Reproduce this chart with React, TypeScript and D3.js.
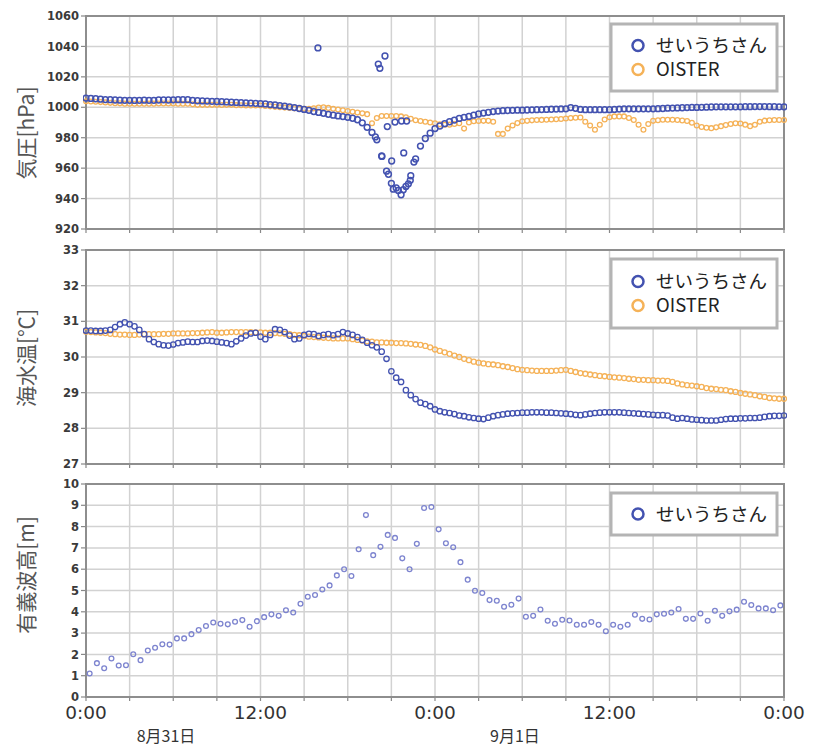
import { useEffect, useRef } from 'react';
import * as d3 from 'd3';

// 20-minute readings, 0:00 8/31 .. 0:00 9/2 (145 values, one row per hour)
const pressSeiuchi = [
  1006.0, 1005.8, 1005.6, 1005.3, 1005.1, 1005.0, 1004.8, 1004.7, 1004.6, 1004.6, 1004.5, 1004.6,
  1004.7, 1004.6, 1004.6, 1004.8, 1004.9, 1004.8, 1004.9, 1005.0, 1005.0, 1005.0, 1004.6, 1004.3,
  1004.2, 1004.1, 1003.9, 1003.8, 1003.7, 1003.5, 1003.3, 1003.2, 1003.0, 1002.9, 1002.8, 1002.6,
  1002.4, 1002.2, 1001.8, 1001.5, 1001.1, 1000.7, 1000.3, 999.8, 999.2, 998.6, 998.0, 997.2,
  996.6, 996.0, 995.4, 994.8, 994.3, 993.9, 993.4, 992.8, 991.8, 989.8, 986.8, 983.5,
  978.6, 968.0, 958.0, 950.0, 947.0, 942.5, 948.0, 955.0, 966.0, 974.5, 979.5, 983.0,
  986.0, 987.7, 989.2, 990.5, 991.6, 992.7, 993.4, 994.0, 994.8, 995.6, 996.2, 996.7,
  997.2, 997.5, 997.8, 997.9, 998.0, 998.1, 998.1, 998.2, 998.3, 998.4, 998.5, 998.6,
  998.7, 998.8, 998.9, 999.0, 999.8, 999.3, 998.6, 998.4, 998.4, 998.4, 998.4, 998.4,
  998.4, 998.6, 998.8, 999.0, 999.0, 999.0, 999.0, 999.0, 999.0, 999.0, 999.1, 999.2,
  999.4, 999.5, 999.6, 999.7, 999.8, 999.9, 999.9, 1000.0, 1000.1, 1000.2, 1000.3, 1000.3,
  1000.3, 1000.3, 1000.3, 1000.3, 1000.4, 1000.4, 1000.5, 1000.5, 1000.5, 1000.4, 1000.4, 1000.3,
  1000.3,
];

// scattered せいうちさん pressure readings around the typhoon passage [hour, hPa]
const pressSeiuchiScatter = [
  [15.95, 1039], [20.1, 1028.4], [20.21, 1025.6], [20.56, 1033.7], [19.9, 980.5],
  [20.35, 967.7], [20.72, 987.3], [20.8, 956], [21.02, 964.7], [21.13, 946.2],
  [21.25, 990.3], [21.48, 945.3], [21.7, 991], [21.82, 945.8], [21.85, 970],
  [22.05, 991], [22.17, 949.7], [22.3, 952], [22.55, 964],
];

const pressOister = [
  1004.0, 1003.8, 1003.6, 1003.4, 1003.2, 1002.9, 1002.7, 1002.6, 1002.4, 1002.3, 1002.3, 1002.3,
  1002.3, 1002.4, 1002.4, 1002.5, 1002.5, 1002.5, 1002.5, 1002.4, 1002.3, 1002.3, 1002.0, 1001.6,
  1001.6, 1001.6, 1001.6, 1001.6, 1001.5, 1001.6, 1001.6, 1001.4, 1001.3, 1001.2, 1001.2, 1001.2,
  1001.2, 1000.9, 1000.6, 1000.3, 1000.0, 999.8, 999.5, 999.3, 999.1, 999.0, 999.0, 999.3,
  999.8, 1000.0, 999.6, 999.0, 998.5, 998.0, 997.5, 997.0, 996.5, 996.0, 995.5, 989.5,
  993.0, 994.3, 994.3, 994.3, 994.2, 994.0, 993.5, 992.5, 991.5, 991.0, 990.5, 990.0,
  989.5, 988.8, 988.5, 988.6, 989.0, 989.5, 986.0, 990.0, 990.8, 991.0, 991.1, 991.1,
  990.5, 982.5, 982.5, 986.0, 988.0, 989.6, 990.8, 991.1, 991.4, 991.6, 991.7, 991.8,
  992.0, 992.1, 992.3, 992.6, 992.9, 993.1, 993.3, 990.5, 988.0, 985.2, 988.5, 992.0,
  993.5, 994.0, 994.0, 994.0, 993.0, 991.6, 988.5, 985.2, 989.0, 991.1, 991.5, 991.8,
  991.8, 991.8, 991.6, 991.3, 991.0, 989.8, 988.0, 987.0, 986.5, 986.3, 986.8, 987.6,
  988.3, 989.0, 989.5, 989.3, 988.6, 987.6, 988.5, 990.5, 991.2, 991.5, 991.6, 991.6,
  991.6,
];

const tempSeiuchi = [
  30.74, 30.74, 30.73, 30.73, 30.74, 30.76, 30.84, 30.92, 30.97, 30.92, 30.86, 30.76,
  30.64, 30.50, 30.42, 30.36, 30.33, 30.32, 30.35, 30.39, 30.41, 30.43, 30.42, 30.42,
  30.45, 30.46, 30.45, 30.43, 30.41, 30.39, 30.36, 30.44, 30.52, 30.60, 30.66, 30.68,
  30.57, 30.50, 30.62, 30.78, 30.76, 30.70, 30.60, 30.50, 30.52, 30.62, 30.65, 30.64,
  30.59, 30.62, 30.64, 30.61, 30.64, 30.70, 30.66, 30.62, 30.56, 30.48, 30.40, 30.33,
  30.27, 30.15, 29.95, 29.60, 29.42, 29.30, 29.07, 28.93, 28.82, 28.72, 28.68, 28.62,
  28.53, 28.48, 28.45, 28.43, 28.40, 28.36, 28.34, 28.31, 28.29, 28.27, 28.26, 28.30,
  28.34, 28.37, 28.39, 28.41, 28.42, 28.43, 28.44, 28.44, 28.45, 28.45, 28.45, 28.44,
  28.44, 28.43, 28.42, 28.41, 28.40, 28.38, 28.37, 28.39, 28.41, 28.43, 28.44, 28.45,
  28.45, 28.45, 28.45, 28.44, 28.43, 28.42, 28.41, 28.40, 28.39, 28.38, 28.37, 28.37,
  28.36, 28.30, 28.27, 28.29, 28.27, 28.25, 28.24, 28.23, 28.22, 28.22, 28.22, 28.24,
  28.26, 28.27, 28.27, 28.28, 28.28, 28.29, 28.29, 28.30, 28.32, 28.34, 28.35, 28.35,
  28.36,
];

const tempOister = [
  30.71, 30.70, 30.69, 30.68, 30.67, 30.65, 30.64, 30.63, 30.63, 30.62, 30.62, 30.63,
  30.64, 30.64, 30.64, 30.64, 30.65, 30.65, 30.66, 30.66, 30.66, 30.66, 30.67, 30.67,
  30.68, 30.69, 30.70, 30.68, 30.68, 30.69, 30.70, 30.70, 30.70, 30.70, 30.70, 30.69,
  30.69, 30.68, 30.68, 30.67, 30.66, 30.65, 30.64, 30.62, 30.61, 30.59, 30.57, 30.56,
  30.55, 30.54, 30.53, 30.52, 30.52, 30.52, 30.52, 30.50, 30.48, 30.46, 30.44, 30.43,
  30.41, 30.41, 30.40, 30.40, 30.39, 30.39, 30.38, 30.37, 30.35, 30.34, 30.31, 30.27,
  30.21, 30.17, 30.13, 30.09, 30.04, 30.00, 29.95, 29.91, 29.87, 29.84, 29.82, 29.80,
  29.79, 29.77, 29.74, 29.72, 29.69, 29.66, 29.64, 29.63, 29.62, 29.61, 29.61, 29.61,
  29.61, 29.62, 29.63, 29.64, 29.61, 29.58, 29.55, 29.53, 29.51, 29.49, 29.47, 29.46,
  29.44, 29.43, 29.42, 29.41, 29.39, 29.38, 29.36, 29.36, 29.35, 29.35, 29.34, 29.34,
  29.33, 29.30, 29.26, 29.23, 29.21, 29.20, 29.18, 29.16, 29.13, 29.11, 29.10, 29.08,
  29.07, 29.04, 29.02, 28.99, 28.97, 28.95, 28.93, 28.90, 28.88, 28.85, 28.84, 28.83,
  28.83,
];

// significant wave height, every 30 min from 0:15
const waveSeiuchi = [
  1.10, 1.59, 1.35, 1.81, 1.48, 1.49, 2.01, 1.73, 2.18, 2.31, 2.48, 2.46,
  2.75, 2.75, 2.95, 3.14, 3.33, 3.50, 3.44, 3.41, 3.53, 3.61, 3.30, 3.56,
  3.75, 3.88, 3.81, 4.07, 3.97, 4.38, 4.71, 4.79, 5.05, 5.24, 5.71, 6.00,
  5.68, 6.94, 8.54, 6.66, 7.05, 7.61, 7.47, 6.51, 6.00, 7.19, 8.87, 8.92,
  7.87, 7.22, 7.03, 6.33, 5.51, 4.99, 4.88, 4.55, 4.52, 4.24, 4.33, 4.62,
  3.77, 3.81, 4.11, 3.58, 3.44, 3.63, 3.59, 3.39, 3.39, 3.52, 3.39, 3.09,
  3.39, 3.30, 3.39, 3.86, 3.67, 3.64, 3.88, 3.91, 3.97, 4.13, 3.67, 3.67,
  3.92, 3.58, 4.05, 3.81, 4.02, 4.10, 4.47, 4.32, 4.16, 4.16, 4.07, 4.30,
];

const timeLabels = ['0:00', '12:00', '0:00', '12:00', '0:00'];
const dateLabels = ['8月31日', '9月1日'];
const seriesNames = ['せいうちさん', 'OISTER'];

const BLUE = '#4352b0';
const ORANGE = '#f5b258';
const WAVE = '#7d84cf';

export default function App() {
  const svgRef = useRef(null);

  useEffect(() => {
    const width = 813;
    const height = 748;
    const svg = d3.select(svgRef.current);
    svg.selectAll('*').remove();
    svg.attr('width', width).attr('height', height);

    const x = d3.scaleLinear().domain([0, 48]).range([86, 784]);
    const t20 = d3.range(145).map(i => i / 3);
    const t30 = d3.range(96).map(i => 0.25 + i * 0.5);

    const panels = [
      {
        top: 16, bottom: 229, domain: [920, 1060], step: 20, title: '気圧[hPa]', titleY: 133,
        legendY: 24, legendH: 67,
        series: [
          { name: seriesNames[1], color: ORANGE, r: 2.4, sw: 1.3, pts: pressOister.map((v, i) => [t20[i], v]) },
          { name: seriesNames[0], color: BLUE, r: 2.9, sw: 1.5, pts: pressSeiuchi.map((v, i) => [t20[i], v]).concat(pressSeiuchiScatter) },
        ],
      },
      {
        top: 250, bottom: 464, domain: [27, 33], step: 1, title: '海水温[℃]', titleY: 358,
        legendY: 259, legendH: 69,
        series: [
          { name: seriesNames[1], color: ORANGE, r: 2.5, sw: 1.3, pts: tempOister.map((v, i) => [t20[i], v]) },
          { name: seriesNames[0], color: BLUE, r: 2.7, sw: 1.3, pts: tempSeiuchi.map((v, i) => [t20[i], v]) },
        ],
      },
      {
        top: 484, bottom: 697, domain: [0, 10], step: 1, title: '有義波高[m]', titleY: 575,
        legendY: 493, legendH: 42,
        series: [
          { name: seriesNames[0], color: WAVE, r: 2.4, sw: 1.3, pts: waveSeiuchi.map((v, i) => [t30[i], v]) },
        ],
      },
    ];

    panels.forEach((p, pi) => {
      const y = d3.scaleLinear().domain(p.domain).range([p.bottom, p.top]);
      const g = svg.append('g');
      const yTicks = d3.range(p.domain[0], p.domain[1] + p.step / 2, p.step);
      const xTicks = d3.range(0, 48.01, 3);

      g.append('rect').attr('x', 86).attr('y', p.top).attr('width', 698).attr('height', p.bottom - p.top).attr('fill', '#fff');

      g.selectAll('.hg').data(yTicks).join('line')
        .attr('x1', 86).attr('x2', 784).attr('y1', d => y(d)).attr('y2', d => y(d))
        .attr('stroke', '#d2d2d2').attr('stroke-width', 1.5);
      g.selectAll('.vg').data(xTicks).join('line')
        .attr('x1', d => x(d)).attr('x2', d => x(d)).attr('y1', p.top).attr('y2', p.bottom)
        .attr('stroke', '#d2d2d2').attr('stroke-width', 1.5);

      // tick marks
      g.selectAll('.yt').data(yTicks).join('line')
        .attr('x1', 81).attr('x2', 86).attr('y1', d => y(d)).attr('y2', d => y(d))
        .attr('stroke', '#888').attr('stroke-width', 1.2);
      g.selectAll('.xt').data(xTicks).join('line')
        .attr('x1', d => x(d)).attr('x2', d => x(d)).attr('y1', p.bottom).attr('y2', p.bottom + 4)
        .attr('stroke', '#888').attr('stroke-width', 1.2);

      g.append('rect').attr('x', 86).attr('y', p.top).attr('width', 698).attr('height', p.bottom - p.top)
        .attr('fill', 'none').attr('stroke', '#8e8e8e').attr('stroke-width', 2);

      g.selectAll('.yl').data(yTicks).join('text')
        .attr('x', 79).attr('y', d => y(d)).attr('dy', '0.36em')
        .attr('text-anchor', 'end').attr('font-family', 'DejaVu Sans').attr('font-weight', 'bold')
        .attr('font-size', 11.5).attr('fill', '#3a3a3a')
        .text(d => d);

      g.append('text')
        .attr('transform', `translate(27,${p.titleY}) rotate(-90)`)
        .attr('text-anchor', 'middle').attr('dy', '0.35em')
        .attr('font-family', 'Noto Sans CJK JP').attr('font-size', 21).attr('fill', '#555')
        .text(p.title);

      const clip = `clip${pi}`;
      svg.append('clipPath').attr('id', clip).append('rect')
        .attr('x', 83).attr('y', p.top - 3).attr('width', 704).attr('height', p.bottom - p.top + 6);
      const mg = g.append('g').attr('clip-path', `url(#${clip})`);
      p.series.forEach(s => {
        mg.append('g').selectAll('circle').data(s.pts).join('circle')
          .attr('cx', d => x(d[0])).attr('cy', d => y(d[1])).attr('r', s.r)
          .attr('fill', 'none').attr('stroke', s.color).attr('stroke-width', s.sw);
      });

      // legend
      const lg = g.append('g');
      lg.append('rect').attr('x', 611).attr('y', p.legendY).attr('width', 166).attr('height', p.legendH)
        .attr('fill', '#fff').attr('stroke', '#b4b4b4').attr('stroke-width', 3);
      const items = p.series.slice().reverse();
      const n = items.length;
      items.forEach((s, i) => {
        const cy = p.legendY + p.legendH / 2 + (i - (n - 1) / 2) * 24;
        lg.append('circle').attr('cx', 638).attr('cy', cy).attr('r', 5.5)
          .attr('fill', 'none').attr('stroke', s.color === WAVE ? BLUE : s.color).attr('stroke-width', 2.5);
        lg.append('text').attr('x', 656).attr('y', cy).attr('dy', '0.36em')
          .attr('font-family', 'Noto Sans CJK JP').attr('font-size', 18.5).attr('fill', '#222')
          .text(s.name);
      });

      if (pi === panels.length - 1) {
        g.selectAll('.xl').data(timeLabels).join('text')
          .attr('x', (d, i) => x(i * 12)).attr('y', p.bottom + 22)
          .attr('text-anchor', 'middle').attr('font-family', 'DejaVu Sans')
          .attr('font-size', 18.5).attr('fill', '#333')
          .text(d => d);
        g.selectAll('.dl').data(dateLabels).join('text')
          .attr('x', (d, i) => x(i * 24) + 80).attr('y', 742)
          .attr('text-anchor', 'middle').attr('font-family', 'Noto Sans CJK JP')
          .attr('font-size', 16).attr('fill', '#333')
          .text(d => d);
      }
    });
  }, []);

  return (
    <svg ref={svgRef} style={{ position: 'absolute', left: 0, top: 0, background: '#fff' }}></svg>
  );
}
